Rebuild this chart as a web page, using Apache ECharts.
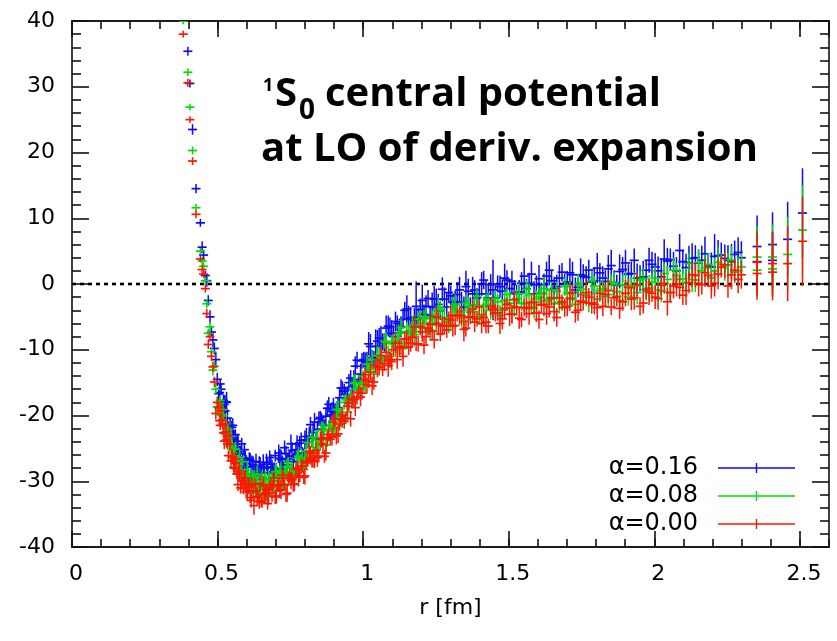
<!DOCTYPE html>
<html><head><meta charset="utf-8">
<script src="https://cdn.jsdelivr.net/npm/echarts@6/dist/echarts.min.js"></script>
<style>html,body{margin:0;padding:0;background:#fff}#c{width:837px;height:641px}</style>
</head><body><div id="c"></div>
<script>
// ---- data (batch 1) ----
const rValues = [
0.382,0.398,0.405,0.414,0.426,0.441,0.447,0.452,0.458,0.463,0.468,0.474,0.479,0.484,0.489,0.494,0.499,
0.504,0.509,0.515,0.520,0.526,0.531,0.537,0.543,0.549,0.555,
0.561,0.567,0.573,0.579,0.586,0.592,0.598,0.605,0.612,0.618,
0.625,0.632,0.639,0.646,0.653,0.660,0.668,0.675,0.683,0.690,
0.698,0.706,0.714,0.722,0.730,0.739,0.747,0.756,0.764,0.773,
0.782,0.791,0.800,0.810,0.819,0.828,0.838,0.848,0.857,0.867,
0.877,0.887,0.898,0.908,0.919,0.929,0.940,0.951,0.962,0.973,
0.985,0.996,
1.007,1.019,1.031,1.043,1.055,1.067,1.079,1.092,1.104,1.117,
1.130,1.143,1.156,1.169,1.182,1.196,1.209,1.223,1.237,1.251,
1.265,1.279,1.294,1.308,1.323,1.338,1.353,1.368,1.383,1.399,
1.414,1.430,1.446,1.462,1.478,1.494,1.511,1.527,1.544,1.561,
1.578,1.595,1.612,1.630,1.647,1.665,1.683,1.701,1.719,1.738,
1.756,1.775,1.794,1.813,1.832,1.852,1.871,1.891,1.911,1.931,
1.951,1.972,1.992,2.013,2.034,2.055,2.076,2.098,2.119,2.141,
2.163,2.185,2.207,2.230,2.253,2.276,2.299,
2.353,2.353,2.406,2.406,2.458,2.509];

const alpha016 = [
43.5,35.4,30.5,23.5,14.5,9.3,5.6,4.4,1.3,0.5,-2.5,-5.0,-7.3,-8.5,-9.8,-11.5,-14.5,
-16.7,-15.2,-19.0,-17.7,-19.3,-18.0,-21.8,-21.5,-21.8,-23.7,
-22.9,-23.9,-26.4,-25.5,-26.9,-25.2,-27.3,-29.0,-26.8,-27.8,
-29.0,-27.0,-28.7,-27.7,-29.7,-28.0,-27.1,-28.7,-27.4,-28.6,
-26.1,-29.0,-26.5,-27.1,-24.9,-27.5,-26.2,-25.3,-26.2,-24.3,
-24.2,-25.7,-23.7,-24.0,-21.4,-22.6,-23.5,-20.5,-20.9,-21.5,
-18.9,-19.9,-18.3,-19.6,-17.3,-15.8,-16.8,-15.0,-15.6,-12.5,
-14.8,-11.7,
-11.8,-9.1,-11.2,-9.5,-8.2,-8.8,-6.7,-6.5,-8.0,-6.0,
-6.5,-4.0,-5.3,-6.3,-3.4,-3.9,-4.6,-2.2,-3.5,-2.3,
-4.1,-2.3,-1.3,-2.8,-1.6,-2.8,-0.4,-3.3,-0.9,-1.5,
0.6,-2.1,-0.9,0.0,-1.1,0.6,0.4,-1.5,0.1,-0.7,
1.5,-0.1,-1.4,1.2,0.5,-0.4,1.8,0.3,1.4,-0.5,
1.2,2.1,0.5,1.7,0.4,2.8,-0.2,2.2,1.5,3.6,
0.9,2.1,3.0,2.0,3.8,3.7,2.0,3.4,3.2,4.0,
3.6,2.7,4.2,4.4,3.6,4.5,4.0,
5.7,3.4,6.0,3.6,6.8,10.8];

const alpha008 = [
40.0,32.2,26.9,20.3,11.6,5.0,3.5,2.7,0.5,-3.0,-7.5,-6.5,-10.3,-13.1,-12.5,-16.0,-18.7,
-19.0,-17.7,-20.0,-20.0,-22.8,-21.9,-22.1,-24.6,-24.5,-26.6,
-25.1,-28.9,-27.1,-28.5,-27.0,-30.2,-29.5,-29.1,-30.6,-29.2,
-29.7,-31.8,-30.4,-31.3,-29.2,-30.8,-32.1,-29.5,-30.1,-30.9,
-28.6,-30.0,-28.8,-30.6,-28.8,-27.8,-29.3,-28.0,-29.1,-26.5,
-29.2,-26.4,-26.7,-24.1,-26.4,-24.8,-23.6,-24.3,-22.3,-22.2,
-23.7,-21.6,-21.9,-19.1,-20.1,-20.8,-17.6,-17.7,-17.9,-15.0,
-15.8,-14.0,
-15.3,-13.0,-11.5,-12.6,-10.9,-11.7,-8.9,-11.5,-8.7,-9.0,
-6.6,-9.0,-7.5,-6.4,-7.2,-5.3,-5.3,-7.0,-5.2,-5.9,
-3.6,-5.1,-6.3,-3.6,-4.3,-5.1,-2.9,-4.3,-3.2,-5.0,
-3.3,-2.4,-4.0,-2.7,-4.0,-1.6,-4.6,-2.2,-2.9,-0.8,
-3.5,-2.3,-1.5,-2.6,-0.9,-1.1,-3.0,-1.4,-2.2,0.0,
-1.6,-2.9,-0.3,-1.0,-1.9,0.3,-1.2,-0.1,-2.0,-0.3,
0.6,-1.0,0.3,-0.9,1.6,-1.3,1.3,0.8,3.1,0.6,
2.0,3.0,2.0,3.0,2.9,1.8,2.6,
4.1,2.1,4.1,2.3,4.5,8.2];

const alpha000 = [
38.0,30.6,25.0,18.7,10.6,3.8,2.2,1.5,-0.7,-4.5,-9.2,-8.0,-11.0,-12.6,-14.9,-19.7,-18.0,
-18.7,-21.5,-20.7,-22.6,-21.3,-23.7,-26.1,-24.4,-26.2,-27.9,
-26.6,-28.9,-28.4,-31.0,-29.9,-29.5,-31.6,-30.8,-32.5,-30.4,
-33.7,-31.5,-32.4,-30.4,-33.2,-32.0,-31.2,-32.3,-30.5,-30.6,
-32.4,-30.7,-31.4,-29.1,-30.6,-31.8,-29.1,-29.7,-30.4,-28.0,
-29.2,-27.7,-29.2,-27.0,-25.7,-26.9,-25.3,-26.2,-23.5,-26.2,
-23.4,-23.6,-21.0,-23.1,-21.3,-19.9,-20.4,-18.1,-17.6,-18.8,
-16.5,-16.6,
-13.8,-14.8,-15.5,-12.4,-12.6,-13.0,-10.4,-11.5,-10.0,-11.5,
-9.5,-8.3,-9.6,-8.1,-9.1,-6.5,-9.3,-6.7,-7.2,-5.0,
-7.6,-6.3,-5.4,-6.4,-4.7,-4.8,-6.7,-5.0,-5.8,-3.5,
-5.1,-6.4,-3.8,-4.4,-5.3,-3.1,-4.6,-3.5,-5.4,-3.7,
-2.8,-4.4,-3.2,-4.5,-2.1,-5.1,-2.7,-3.4,-1.3,-4.0,
-2.8,-2.0,-3.1,-1.4,-1.6,-3.5,-1.9,-2.7,-0.5,-2.1,
-3.4,-0.8,-1.4,-2.2,0.1,-1.3,0.0,-1.7,0.2,1.3,
-0.1,1.3,0.1,2.6,-0.3,2.1,1.4,
3.3,1.6,3.1,1.8,3.1,6.5];

const errAlpha016 = [
0.6,0.7,0.6,0.8,0.7,0.6,0.9,0.8,0.7,0.9,0.8,1.0,0.8,1.1,0.9,1.2,1.0,
1.0,0.8,1.3,0.9,1.1,1.6,0.9,1.2,1.0,1.4,
0.8,1.1,1.5,0.9,1.2,1.0,1.3,0.8,1.1,1.7,
0.9,1.2,1.0,1.4,1.1,0.9,1.3,1.0,1.5,1.1,
0.9,1.2,1.4,1.0,1.1,1.6,0.9,1.2,1.0,1.3,
1.1,0.9,1.4,1.0,1.2,1.5,1.0,1.1,1.3,0.9,
1.2,1.6,1.0,1.1,1.4,1.0,1.2,1.3,1.1,1.5,
1.0,1.2,
1.4,1.8,1.2,2.6,1.5,1.3,1.9,1.4,1.7,1.2,
1.6,1.3,2.0,1.4,3.8,1.7,1.5,1.3,2.2,1.6,
1.4,1.8,1.5,1.2,1.9,1.6,2.4,1.3,1.5,1.7,
1.4,2.0,4.6,1.3,1.8,1.5,1.6,1.4,1.7,1.5,
1.9,1.4,1.6,2.2,1.5,1.8,1.4,1.7,2.0,1.5,
1.8,1.6,2.1,1.5,1.7,2.4,1.6,1.9,1.5,1.8,
2.0,1.6,1.9,2.2,3.0,1.7,2.1,1.8,2.6,1.9,
2.2,2.0,3.4,1.9,2.3,2.1,2.5,
4.7,4.0,4.9,4.3,5.7,6.8];

const errAlpha008and000 = [
0.5,0.6,0.5,0.6,0.6,0.5,0.7,0.6,0.6,0.7,0.7,0.8,0.7,0.8,0.8,0.9,0.9,
0.8,0.7,1.0,0.8,0.9,1.2,0.7,0.9,1.1,0.8,
1.0,0.8,1.3,0.9,0.7,1.1,0.9,1.2,0.8,1.0,
1.4,0.9,1.0,1.2,0.8,1.1,0.9,1.3,1.0,0.8,
1.1,0.9,1.2,1.0,0.8,1.3,1.0,0.9,1.1,1.2,
0.9,1.0,1.3,0.8,1.1,1.0,1.2,0.9,1.4,1.0,
1.1,0.9,1.2,1.3,1.0,1.1,0.9,1.2,1.0,1.3,
1.1,1.0,
1.2,1.0,1.4,1.1,1.3,1.0,1.5,1.2,1.1,1.4,
1.3,1.0,1.2,1.6,1.1,1.3,1.4,1.0,1.2,1.5,
1.1,1.3,1.2,1.6,1.0,1.4,1.3,1.1,1.5,1.2,
1.4,1.1,1.3,1.2,1.6,1.0,1.4,1.3,1.2,1.5,
1.1,1.4,1.3,1.7,1.2,1.4,1.1,1.5,1.3,1.6,
1.2,1.4,1.5,1.3,1.7,1.2,1.5,1.4,1.3,1.8,
1.4,1.5,1.3,1.7,1.6,1.4,1.9,1.5,1.6,1.8,
1.5,1.7,2.0,1.6,1.8,1.7,2.1,
4.7,4.0,4.9,4.3,5.7,6.8];

// ---- batch 2: the points lying between those of batch 1 ----
const rValues2 = [
0.507,0.512,0.518,0.523,0.529,0.534,0.540,0.546,0.552,0.558,
0.564,0.570,0.576,0.583,0.589,0.595,0.602,0.609,0.615,0.622,
0.629,0.636,0.643,0.650,0.657,0.664,0.672,0.679,0.687,0.694,
0.702,0.710,0.718,0.726,0.735,0.743,0.752,0.760,0.769,0.778,
0.787,0.796,0.805,0.815,0.824,0.833,0.843,0.853,0.862,0.872,
0.882,0.893,0.903,0.914,0.924,0.935,0.946,0.957,0.968,0.979,
0.991,1.002,
1.013,1.025,1.037,1.049,1.061,1.073,1.086,1.098,1.111,1.124,
1.137,1.150,1.163,1.176,1.189,1.203,1.216,1.230,1.244,1.258,
1.272,1.287,1.301,1.316,1.331,1.346,1.361,1.376,1.391,1.407,
1.422,1.438,1.454,1.470,1.486,1.503,1.519,1.536,1.553,1.570,
1.587,1.604,1.621,1.639,1.656,1.674,1.692,1.710,1.729,1.747,
1.766,1.785,1.804,1.823,1.842,1.862,1.881,1.901,1.921,1.941,
1.962,1.982,2.003,2.024,2.045,2.066,2.087,2.109,2.130,2.152,
2.174,2.196,2.219,2.242,2.265,2.288];

const alpha016b = [
-16.5,-16.0,-19.0,-18.3,-17.9,-20.4,-22.1,-22.9,-21.5,-23.4,
-25.9,-24.3,-25.8,-24.3,-27.6,-26.5,-27.9,-26.6,-29.5,-27.5,
-28.2,-29.1,-27.1,-28.7,-27.4,-29.5,-27.8,-26.4,-27.9,-28.5,
-28.2,-25.7,-26.7,-28.2,-25.8,-26.6,-24.3,-27.0,-25.2,-25.8,
-23.8,-26.0,-23.2,-23.2,-23.5,-21.0,-22.1,-20.3,-22.1,-20.1,
-18.3,-19.4,-19.6,-18.8,-15.8,-16.3,-17.3,-14.3,-14.5,-11.6,
-13.7,-11.5,
-11.8,-9.5,-11.5,-8.7,-8.6,-8.9,-6.4,-7.5,-5.7,-7.4,
-5.4,-3.8,-5.1,-5.5,-5.1,-2.5,-3.4,-4.8,-2.3,-3.1,
-0.8,-3.5,-1.8,-2.7,-0.9,-3.5,-1.1,-1.5,-2.1,0.0,
-1.5,-0.1,-2.1,-0.4,0.9,-0.7,-1.4,-1.2,1.2,0.1,
-1.5,0.8,-0.1,2.1,-0.7,0.9,0.0,1.7,-0.9,1.4,
1.0,0.3,2.4,0.9,2.3,0.2,1.9,3.2,1.6,0.9,
1.1,3.6,2.6,1.1,3.5,2.7,5.1,2.5,3.9,3.2,
4.6,2.6,4.3,3.9,3.4,4.8];

const alpha008b = [
-18.1,-19.9,-19.1,-22.7,-21.3,-22.6,-24.3,-23.2,-25.7,-25.1,
-28.1,-27.1,-26.4,-28.7,-29.9,-30.2,-28.3,-29.8,-31.7,-29.7,
-30.9,-28.9,-31.8,-30.3,-31.3,-29.6,-32.2,-29.8,-30.1,-30.7,
-28.5,-29.9,-28.4,-30.4,-28.6,-27.2,-28.7,-29.3,-28.9,-26.2,
-27.0,-28.2,-25.4,-25.9,-23.3,-25.7,-23.7,-24.2,-22.2,-24.5,
-21.7,-21.6,-21.8,-19.1,-20.0,-18.0,-19.5,-17.1,-15.1,-16.0,
-16.0,-15.2,
-12.2,-12.7,-13.7,-10.9,-11.3,-8.7,-11.1,-9.1,-9.6,-7.5,
-9.8,-7.2,-7.3,-7.7,-5.4,-6.7,-5.1,-7.0,-5.1,-3.7,
-5.2,-5.8,-5.5,-3.1,-4.1,-5.7,-3.3,-4.2,-1.9,-4.7,
-3.1,-4.0,-2.2,-4.8,-2.5,-2.9,-3.6,-1.5,-3.0,-1.6,
-3.7,-2.0,-0.7,-2.3,-3.0,-2.8,-0.4,-1.5,-3.1,-0.8,
-1.7,0.5,-2.3,-0.7,-1.6,0.1,-2.5,-0.2,-0.6,-1.3,
0.8,-0.6,0.9,-1.1,0.7,2.1,0.7,0.2,0.7,3.3,
2.4,0.9,3.3,2.5,3.6,2.0];

const alpha000b = [
-20.8,-19.3,-21.3,-23.9,-22.5,-24.3,-23.1,-26.9,-26.3,-28.0,
-27.2,-30.5,-28.8,-29.9,-31.1,-29.5,-31.5,-30.5,-32.9,-31.5,
-30.5,-32.3,-33.1,-33.0,-30.7,-31.8,-33.4,-31.0,-31.8,-29.5,
-32.2,-30.5,-31.3,-29.5,-32.0,-29.6,-29.9,-30.5,-28.2,-29.4,
-27.7,-29.4,-27.2,-25.5,-26.7,-27.0,-26.4,-23.6,-24.4,-25.7,
-22.9,-23.3,-20.6,-22.8,-20.6,-20.9,-18.6,-20.5,-17.5,-17.2,
-17.2,-14.5,
-15.4,-13.4,-14.9,-12.7,-10.9,-12.1,-12.4,-11.8,-9.0,-9.7,
-11.0,-8.4,-9.0,-6.5,-9.1,-7.3,-8.0,-6.1,-8.5,-6.1,
-6.4,-7.0,-4.8,-6.3,-4.8,-6.9,-5.1,-3.8,-5.3,-6.0,
-5.8,-3.4,-4.4,-6.0,-3.7,-4.6,-2.4,-5.2,-3.6,-4.5,
-2.8,-5.4,-3.1,-3.5,-4.2,-2.1,-3.6,-2.2,-4.3,-2.6,
-1.3,-2.9,-3.6,-3.4,-1.0,-2.1,-3.7,-1.4,-2.3,-0.1,
-2.9,-1.2,-2.0,-0.2,-2.7,-0.3,-0.5,-1.0,1.4,0.1,
1.7,-0.3,1.5,2.9,1.4,0.7];

const errAlpha016b = [
1.2,0.9,1.1,1.4,1.0,1.3,0.9,1.5,1.1,1.2,
1.0,1.4,1.2,0.9,1.3,1.1,1.6,1.0,1.2,1.3,
1.1,1.4,0.9,1.2,1.5,1.0,1.3,1.1,1.2,1.4,
1.0,1.3,1.5,1.1,1.2,1.0,1.4,1.3,1.1,1.6,
1.2,1.0,1.3,1.5,1.1,1.4,1.2,1.0,1.6,1.3,
1.1,1.4,1.2,1.5,1.3,1.1,1.7,1.2,1.4,1.3,
1.6,1.2,
1.5,1.9,1.3,1.7,2.2,1.4,1.6,2.0,1.5,1.8,
1.4,2.1,1.6,1.9,1.5,2.4,1.7,1.5,2.0,1.6,
1.8,2.3,1.5,1.7,2.0,1.6,1.9,2.6,1.5,1.8,
2.1,1.6,1.9,1.7,2.2,1.5,2.0,1.8,2.7,1.6,
1.9,2.1,1.7,2.3,1.8,2.0,1.6,2.2,1.9,2.5,
1.7,2.0,2.3,1.8,2.1,1.9,2.6,2.0,1.8,2.2,
2.4,1.9,2.1,2.8,2.0,2.2,2.5,2.1,2.3,2.0,
2.6,2.2,2.4,2.1,2.7,2.3];

const errAlpha008and000b = [
0.9,1.1,0.8,1.2,1.0,0.9,1.3,1.0,1.1,0.9,
1.2,1.0,1.3,1.1,0.9,1.2,1.4,1.0,1.1,1.2,
0.9,1.3,1.1,1.0,1.4,1.2,0.9,1.1,1.3,1.0,
1.2,1.1,1.4,1.0,1.2,0.9,1.3,1.1,1.0,1.4,
1.2,1.0,1.1,1.3,1.2,1.0,1.4,1.1,1.3,1.2,
1.0,1.3,1.1,1.4,1.2,1.1,1.5,1.2,1.3,1.1,
1.4,1.2,
1.3,1.6,1.2,1.5,1.4,1.1,1.7,1.3,1.5,1.2,
1.6,1.4,1.3,1.8,1.2,1.5,1.4,1.6,1.3,1.7,
1.4,1.2,1.6,1.5,1.3,1.8,1.4,1.6,1.2,1.5,
1.7,1.4,1.3,1.6,1.5,1.8,1.4,1.6,1.3,1.7,
1.5,1.4,1.8,1.6,1.5,1.7,1.4,1.9,1.6,1.5,
1.7,1.6,1.8,1.5,1.9,1.7,1.6,2.0,1.7,1.8,
1.6,2.0,1.8,1.7,2.1,1.9,1.8,2.2,1.9,2.0,
2.1,1.9,2.3,2.0,2.2,2.1];

const seriesNames = ['\u03b1=0.16', '\u03b1=0.08', '\u03b1=0.00'];
const seriesColors = ['#0a0af5', '#00dd00', '#ff1500'];
const zeroLine = [[0, 0], [2.6, 0]];
const xRange = [0, 2.6];
const yRange = [-40, 40];
const xAxisTitle = 'r [fm]';
const titleSup = '1', titleS = 'S', titleSub = '0';
const titleLine1 = 'central potential';
const titleLine2 = 'at LO of deriv. expansion';

// ---- chart ----
function build(rs, vals, errs) { return rs.map((r, i) => [r, vals[i], errs[i]]); }
function renderErr(color) {
  return function (params, api) {
    const x = api.value(0), y = api.value(1), e = api.value(2);
    const c = api.coord([x, y]);
    const lo = api.coord([x, y - e]);
    const hi = api.coord([x, y + e]);
    return {
      type: 'group',
      children: [
        { type: 'line', shape: { x1: c[0], y1: lo[1], x2: c[0], y2: hi[1] }, style: { stroke: color, lineWidth: 1.5 } },
        { type: 'line', shape: { x1: c[0] - 4.5, y1: c[1], x2: c[0] + 4.5, y2: c[1] }, style: { stroke: color, lineWidth: 1.7 } }
      ]
    };
  };
}
const axLine = { color: '#111', width: 1.6 };
const tickFont = { fontSize: 22, fontFamily: 'DejaVu Sans', color: '#000' };
function xAx(pos, interval, len, labels) {
  return {
    type: 'value', position: pos, min: xRange[0], max: xRange[1], interval: interval,
    axisLine: { show: true, onZero: false, lineStyle: axLine },
    axisTick: { show: true, inside: true, length: len, lineStyle: axLine },
    axisLabel: labels ? Object.assign({ show: true, margin: 16, showMaxLabel: false, padding: [0, 0, 0, 8] }, tickFont) : { show: false },
    splitLine: { show: false },
    name: labels ? xAxisTitle : '',
    nameLocation: 'middle', nameGap: 50,
    nameTextStyle: { fontSize: 22, fontFamily: 'DejaVu Sans', color: '#000' }
  };
}
function yAx(pos, labels) {
  return {
    type: 'value', position: pos, min: yRange[0], max: yRange[1], interval: 10,
    axisLine: { show: true, onZero: false, lineStyle: axLine },
    axisTick: { show: true, inside: true, length: 17, lineStyle: axLine },
    minorTick: { show: true, splitNumber: 5, length: 9, lineStyle: axLine },
    axisLabel: labels ? Object.assign({ show: true, margin: 17 }, tickFont) : { show: false },
    splitLine: { show: false }, minorSplitLine: { show: false }
  };
}
const legendIcon = 'path://M0,4.35 L77,4.35 L77,5.65 L0,5.65 Z M37.8,0 L39.2,0 L39.2,10 L37.8,10 Z';

const chart = echarts.init(document.getElementById('c'), null, { renderer: 'canvas' });
const dataSets = [
  build(rValues, alpha016, errAlpha016).concat(build(rValues2, alpha016b, errAlpha016b)),
  build(rValues, alpha008, errAlpha008and000).concat(build(rValues2, alpha008b, errAlpha008and000b)),
  build(rValues, alpha000, errAlpha008and000).concat(build(rValues2, alpha000b, errAlpha008and000b))
];
const series = [{
  type: 'line', name: 'zero', data: zeroLine, xAxisIndex: 0, yAxisIndex: 0,
  symbol: 'none', silent: true, z: 1,
  lineStyle: { color: '#000', width: 2.6, type: [4, 4] }
}];
dataSets.forEach((d, k) => {
  series.push({
    type: 'custom', name: seriesNames[k], data: d, xAxisIndex: 0, yAxisIndex: 0,
    encode: { x: 0, y: 1 }, clip: true, z: 2 + k,
    itemStyle: { color: seriesColors[k] },
    renderItem: renderErr(seriesColors[k])
  });
});

chart.setOption({
  animation: false,
  backgroundColor: '#fff',
  color: seriesColors,
  grid: { left: 72, right: 8, top: 21, bottom: 94, containLabel: false, outerBoundsMode: 'none' },
  xAxis: [xAx('bottom', 0.5, 16, true), xAx('bottom', 0.1, 8, false), xAx('top', 0.5, 16, false), xAx('top', 0.1, 8, false)],
  yAxis: [yAx('left', true), yAx('right', false)],
  legend: {
    data: seriesNames.map(n => ({ name: n, icon: legendIcon })),
    orient: 'vertical', align: 'right', right: 37, top: 451,
    itemWidth: 77, itemHeight: 10, itemGap: 4, selectedMode: false,
    itemStyle: { borderWidth: 0 },
    textStyle: { fontSize: 24, fontFamily: 'DejaVu Sans', color: '#000', padding: [0, 15, 0, 0] }
  },
  series: series,
  graphic: [
    { type: 'text', x: 263, y: 86, style: { text: titleSup, font: 'bold 18px "Open Sans"', fill: '#000', verticalAlign: 'middle' } },
    { type: 'text', x: 275, y: 94.5, style: { text: titleS, font: 'bold 40px "Open Sans"', fill: '#000', verticalAlign: 'middle' } },
    { type: 'text', x: 299, y: 111, style: { text: titleSub, font: 'bold 28px "Open Sans"', fill: '#000', verticalAlign: 'middle' } },
    { type: 'text', x: 325, y: 94.5, style: { text: titleLine1, font: 'bold 40px "Open Sans"', fill: '#000', verticalAlign: 'middle' } },
    { type: 'text', x: 261, y: 149.5, style: { text: titleLine2, font: 'bold 40px "Open Sans"', fill: '#000', verticalAlign: 'middle' } }
  ]
});
</script>
</body></html>
